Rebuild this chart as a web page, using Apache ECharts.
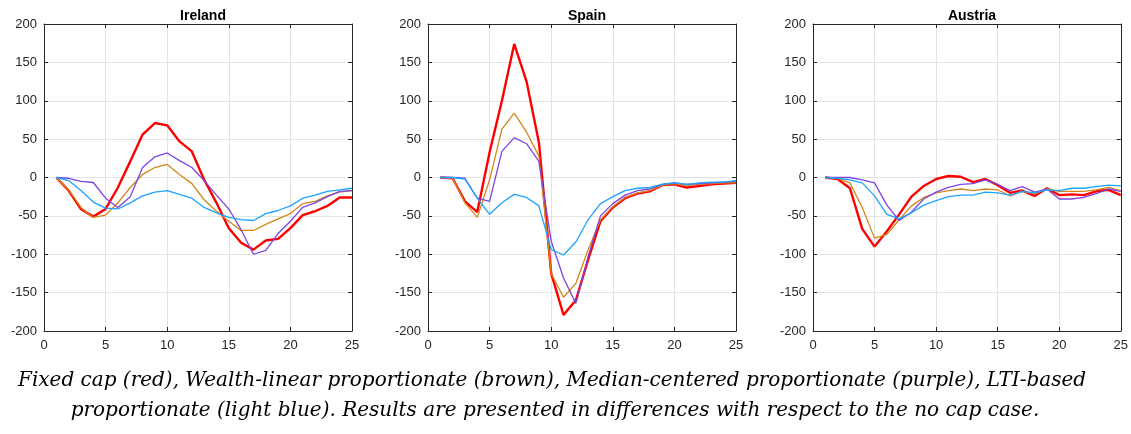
<!DOCTYPE html>
<html>
<head>
<meta charset="utf-8">
<script src="https://cdn.jsdelivr.net/npm/echarts@6/dist/echarts.min.js"></script>
<style>
html,body{margin:0;padding:0;background:#fff;}
#chart{width:1131px;height:434px;}
</style>
</head>
<body>
<div id="chart"></div>
<script>
// ---- data ----
const periods = [1,2,3,4,5,6,7,8,9,10,11,12,13,14,15,16,17,18,19,20,21,22,23,24,25];
const countries = ['Ireland','Spain','Austria'];
const seriesNames = ['Fixed cap','Wealth-linear proportionate','Median-centered proportionate','LTI-based proportionate'];
const xTicks = [0,5,10,15,20,25];
const yTicks = [-200,-150,-100,-50,0,50,100,150,200];

const irelandFixed   = [0,-17,-41,-51,-41,-13,21,56,71,68,47,34,-3,-33,-66,-85,-94,-82,-80,-66,-49,-44,-37,-26,-26];
const irelandWealth  = [0,-16,-39,-52,-49,-33,-13,4,13,17,4,-8,-29,-44,-57,-69,-69,-61,-54,-47,-34,-31,-24,-19,-17];
const irelandMedian  = [0,-1,-5,-6.5,-27,-39,-25,13,27,32,22,13,-4,-23,-41,-68,-100,-95,-73,-57,-39,-33,-25,-18,-17];
const irelandLTI     = [0,-4,-17,-32,-40,-41,-33,-24,-19,-17,-22,-27,-39,-46,-52,-55,-56,-47,-43,-37,-27,-23,-18,-16,-14];

const spainFixed     = [0,-1,-31,-45,33,100,174,125,46,-125,-179,-160,-107,-57,-39,-27,-21,-18,-10,-9,-13,-11,-9,-8,-7];
const spainWealth    = [0,-1,-33,-52,-3,63,84,59,28,-125,-156,-138,-94,-55,-38,-26,-20,-17,-10,-8,-11,-9,-8,-7,-7];
const spainMedian    = [0,0,-1,-27,-31,34,52,44,21,-83,-131,-164,-103,-50,-34,-23,-17,-15,-9,-7,-9,-8,-7,-6,-5];
const spainLTI       = [0,0,-2,-27,-48,-33,-22,-26,-37,-94,-101,-84,-55,-34,-25,-17,-14,-13,-9,-7,-9,-7,-6,-6,-4];

const austriaFixed   = [0,-2,-14,-67,-90,-70,-48,-25,-11,-2,2,1,-6,-2,-10,-20,-17,-24,-14,-23,-22,-23,-18,-16,-23];
const austriaWealth  = [0,-1,-7,-39,-79,-74,-55,-37,-26,-20,-17,-15,-17,-15,-16,-24,-18,-21,-15,-18,-18,-18,-16,-13,-17];
const austriaMedian  = [0,0,0,-3,-7,-36,-56,-45,-28,-19,-13,-9,-8,-3,-9,-17,-12,-19,-15,-28,-28,-26,-21,-15,-18];
const austriaLTI     = [0,-1,-3,-7,-24,-48,-54,-46,-36,-30,-25,-23,-23,-19,-20,-23,-18,-20,-16,-17,-14,-14,-12,-10,-11];

const captionLine1 = 'Fixed cap (red), Wealth-linear proportionate (brown), Median-centered proportionate (purple), LTI-based';
const captionLine2 = 'proportionate (light blue). Results are presented in differences with respect to the no cap case.';

const panelData = [
  [irelandFixed, irelandWealth, irelandMedian, irelandLTI],
  [spainFixed, spainWealth, spainMedian, spainLTI],
  [austriaFixed, austriaWealth, austriaMedian, austriaLTI]
];

// ---- styles ----
const colors = ['#FF0000','#D4861A','#7B45E0','#1CA3FF'];
const widths = [2.4,1.3,1.3,1.3];
const gridLefts = [44, 428, 813];
const gridWidth = 308;
const gridTop = 24;
const gridHeight = 307;
const axisColor = '#262626';
const font = '"Liberation Sans", Arial, Helvetica, sans-serif';

const chart = echarts.init(document.getElementById('chart'), null, {renderer:'canvas'});

const grids = [], xAxes = [], yAxes = [], series = [], titles = [];
countries.forEach((c, i) => {
  grids.push({left: gridLefts[i], top: gridTop, width: gridWidth, height: gridHeight, containLabel: false});
  titles.push({
    text: c, left: gridLefts[i] + gridWidth/2, top: 4, textAlign: 'center',
    textStyle: {fontFamily: font, fontSize: 14, fontWeight: 'bold', color: '#000'}
  });
  xAxes.push({
    type: 'value', gridIndex: i, min: xTicks[0], max: xTicks[xTicks.length-1], interval: 5,
    position: 'bottom',
    axisLine: {show: true, onZero: false, lineStyle: {color: axisColor, width: 1}},
    axisTick: {show: true, inside: true, length: 4, lineStyle: {color: axisColor}},
    axisLabel: {fontFamily: font, fontSize: 13, color: axisColor, margin: 8},
    splitLine: {show: true, lineStyle: {color: '#E3E3E3', width: 1}}
  });
  yAxes.push({
    type: 'value', gridIndex: i, min: yTicks[0], max: yTicks[yTicks.length-1], interval: 50,
    position: 'left',
    axisLine: {show: true, onZero: false, lineStyle: {color: axisColor, width: 1}},
    axisTick: {show: true, inside: true, length: 4, lineStyle: {color: axisColor}},
    axisLabel: {fontFamily: font, fontSize: 13, color: axisColor, margin: 7},
    splitLine: {show: true, lineStyle: {color: '#E3E3E3', width: 1}}
  });
});
countries.forEach((c, i) => {
  xAxes.push({
    type: 'value', gridIndex: i, min: xTicks[0], max: xTicks[xTicks.length-1], interval: 5,
    position: 'top',
    axisLine: {show: true, onZero: false, lineStyle: {color: axisColor, width: 1}},
    axisTick: {show: true, inside: true, length: 4, lineStyle: {color: axisColor}},
    axisLabel: {show: false}, splitLine: {show: false}
  });
  yAxes.push({
    type: 'value', gridIndex: i, min: yTicks[0], max: yTicks[yTicks.length-1], interval: 50,
    position: 'right',
    axisLine: {show: true, onZero: false, lineStyle: {color: axisColor, width: 1}},
    axisTick: {show: true, inside: true, length: 4, lineStyle: {color: axisColor}},
    axisLabel: {show: false}, splitLine: {show: false}
  });
});

panelData.forEach((sets, i) => {
  sets.forEach((vals, k) => {
    series.push({
      name: seriesNames[k], type: 'line', xAxisIndex: i, yAxisIndex: i,
      data: periods.map((p, j) => [p, vals[j]]),
      showSymbol: false, symbol: 'none', animation: false,
      lineStyle: {color: colors[k], width: widths[k]},
      itemStyle: {color: colors[k]},
      z: 2 + k
    });
  });
});

const capFont = 'italic 20px "DejaVu Serif", "Liberation Serif", serif';
chart.setOption({
  animation: false,
  backgroundColor: '#fff',
  title: titles,
  grid: grids,
  xAxis: xAxes,
  yAxis: yAxes,
  series: series,
  graphic: [
    {type: 'text', x: 18, y: 371, style: {text: captionLine1, font: capFont, fill: '#000', textAlign: 'left'}},
    {type: 'text', x: 555, y: 401, style: {text: captionLine2, font: capFont, fill: '#000', textAlign: 'center'}}
  ]
});
</script>
</body>
</html>
